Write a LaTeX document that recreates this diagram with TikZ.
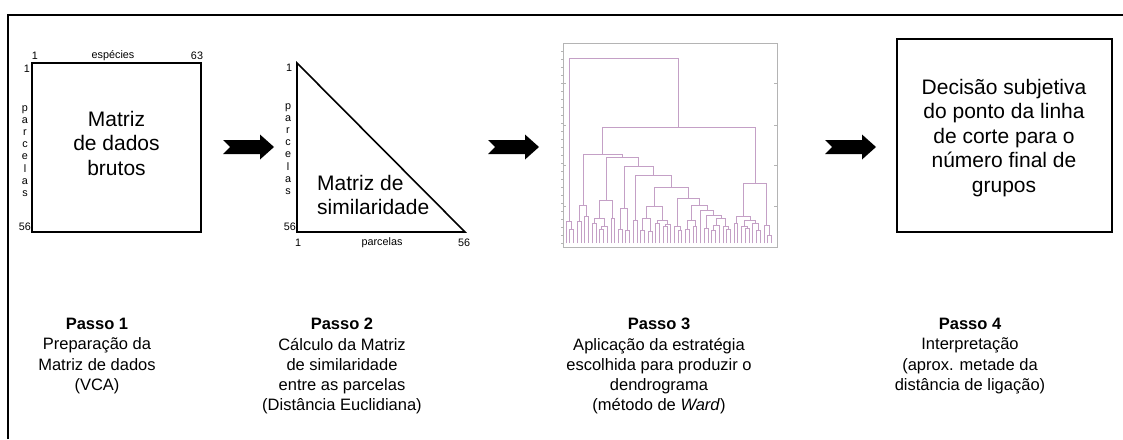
\documentclass[tikz,border=0pt]{standalone}
\usepackage{fontspec}
\setmainfont{Liberation Sans}
\usepackage{tikz}

\definecolor{dendroline}{RGB}{196,160,198}
\definecolor{framegray}{RGB}{180,180,180}

\begin{document}
\begin{tikzpicture}[x=1pt,y=-1pt,
    big_box/.style={draw,line width=1.6pt},
    big_text/.style={align=center,inner sep=0,font=\fontsize{21}{24.5}\selectfont},
    step_text/.style={align=center,anchor=north,inner sep=0,font=\fontsize{16.5}{20.3}\selectfont},
    small_lbl/.style={inner sep=0,font=\fontsize{10.8}{12}\selectfont},
    vert_lbl/.style={align=center,inner sep=0,font=\fontsize{10.8}{12.2}\selectfont},
    dendro/.style={draw=dendroline,line width=0.55pt}]

    \useasboundingbox (0,0) rectangle (1123,439);

    % outer frame (cut at right and bottom)
    \draw[line width=1.6pt] (8,439) -- (8,15) -- (1123,15);

    % step 1: raw data matrix
    \node[big_box,minimum width=169,minimum height=169] (raw_box) at (116.5,147.5) {};
    \node[big_text] (raw_txt) at (116.5,143) {Matriz\\de dados\\brutos};
    \node[small_lbl] (raw_c1) at (35,56) {1};
    \node[small_lbl] (raw_sp) at (113,56) {espécies};
    \node[small_lbl] (raw_c63) at (197,56) {63};
    \node[small_lbl] (raw_r1) at (27,69) {1};
    \node[vert_lbl] (raw_parc) at (25,151) {p\\a\\r\\c\\e\\l\\a\\s};
    \node[small_lbl,anchor=east] (raw_r56) at (31,227) {56};

    % step 2: similarity matrix
    \draw[big_box,line join=miter] (297,63) -- (297,232) -- (465,232) -- cycle;
    \node[big_text,align=left,anchor=west] (sim_txt) at (317,195) {Matriz de\\similaridade};
    \node[small_lbl] (sim_r1) at (289,68) {1};
    \node[vert_lbl] (sim_parc) at (288,149) {p\\a\\r\\c\\e\\l\\a\\s};
    \node[small_lbl,anchor=east] (sim_r56) at (296,227) {56};
    \node[small_lbl] (sim_c1) at (298,243) {1};
    \node[small_lbl] (sim_pc) at (382,243) {parcelas};
    \node[small_lbl] (sim_c56) at (464,243) {56};

    % step 3: dendrogram
    \draw[framegray,line width=0.5pt] (563,43) rectangle (777,247);
    \foreach \ty in {51,59,67,75,83,91,99,107,115,123,131,139,147,155,163,171,179,187,195,203,211,219,227,235,243}
        \draw[framegray,line width=0.4pt] (561,\ty) -- (563,\ty);
    \foreach \ty in {83,125,165,206}
        \draw[framegray,line width=0.4pt] (563,\ty) -- (566,\ty) (777,\ty) -- (774,\ty);
    \begin{scope}[shift={(540,30)},scale=1/3]
        \foreach \xa/\ya/\xb/\yb/\h in {
            89.2/640/100.4/640/598, 78/640/94.8/598/575,
            111.6/640/122.8/640/575, 134/640/145.2/640/560, 117.2/575/139.6/560/525,
            178.8/640/190/640/598, 184.4/598/201.2/640/590, 156.4/640/167.6/640/580,
            162/580/192.8/590/565, 212.4/640/223.6/640/565, 177.4/565/218/565/510,
            234.8/640/246/640/598, 257.2/640/268.4/640/600, 240.4/598/262.8/600/535,
            279.6/640/290.8/640/572,
            302/640/313.2/640/600, 324.4/640/335.6/640/605, 307.6/600/330/605/565,
            346.8/640/358/640/580, 369.2/640/380.4/640/590, 374.8/590/391.6/640/582,
            352.4/580/383.2/582/570, 318.8/565/367.8/570/528,
            414/640/425.2/640/600, 402.8/640/419.6/600/590,
            436.4/640/447.6/640/598, 458.8/640/470/640/590, 442/598/464.4/590/572,
            492.4/640/503.6/640/595, 514.8/640/526/640/600, 520.4/600/537.2/640/585,
            559.6/640/570.8/640/598, 548.4/640/565.2/598/590, 528.8/585/556.8/590/565,
            498/595/542.8/565/555, 481.2/640/520.4/555/540, 453.2/572/500.8/540/527,
            411.2/590/477/527/505, 343.3/528/444.1/505/472, 285.2/572/393.7/472/435,
            251.6/535/339.5/435/410, 197.7/510/295.5/410/382, 128.4/525/246.6/382/372,
            582/640/593.2/640/580, 615.6/640/626.8/640/595, 604.4/640/621.2/595/590,
            649.2/640/660.4/640/600, 638/640/654.8/600/580, 612.8/590/646.4/580/572,
            587.6/580/629.6/572/560, 682.8/640/694/640/615, 671.6/640/688.4/615/585,
            608.6/560/680/585/460,
            187.5/372/644.3/460/292,
            86.4/575/415.9/292/85}
            \draw[dendro] (\xa,\ya) |- (\xb,\h) -- (\xb,\yb);
    \end{scope}

    % step 4: decision box
    \node[big_box,minimum width=215,minimum height=193] (cut_box) at (1004.5,135.5) {};
    \node[big_text] (cut_txt) at (1004,138) {Decisão subjetiva\\do ponto da linha\\de corte para o\\número final de\\grupos};

    % block arrows between the steps
    \foreach \ax in {223,488,825}
        \fill (\ax,140) -- ++(37,0) -- ++(0,-5.5) -- ++(14,12.5) -- ++(-14,12.5)
            -- ++(0,-5.5) -- ++(-37,0) -- ++(7,-7) -- cycle;

    % step captions
    \node[step_text] (cap1) at (97,318) {\textbf{Passo 1}\\Preparação da\\Matriz de dados\\(VCA)};
    \node[step_text] (cap2) at (342,318) {\textbf{Passo 2}\\Cálculo da Matriz\\de similaridade\\entre as parcelas\\(Distância Euclidiana)};
    \node[step_text] (cap3) at (659,318) {\textbf{Passo 3}\\Aplicação da estratégia\\escolhida para produzir o\\dendrograma\\(método de \textit{Ward})};
    \node[step_text] (cap4) at (970,318) {\textbf{Passo 4}\\Interpretação\\(aprox. metade da\\distância de ligação)};

\end{tikzpicture}
\end{document}
